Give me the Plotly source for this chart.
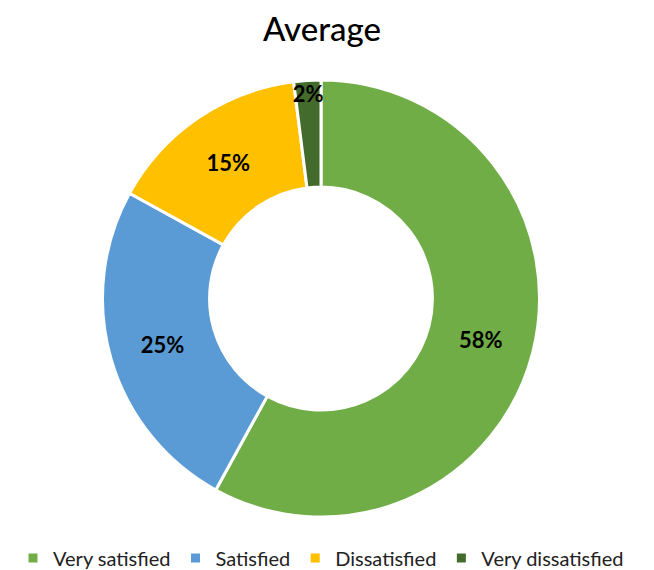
import plotly.graph_objects as go

categories = ["Very satisfied", "Satisfied", "Dissatisfied", "Very dissatisfied"]
values = [58, 25, 15, 2]
colors = ["#70AD47", "#5B9BD5", "#FFC000", "#436B2C"]

fig = go.Figure(go.Pie(
    labels=categories,
    values=values,
    hole=0.51,
    sort=False,
    direction="clockwise",
    rotation=0,
    marker=dict(colors=colors, line=dict(color="white", width=3)),
    texttemplate="%{percent:.0%}",
    textposition="inside",
    insidetextorientation="horizontal",
    textfont=dict(family="Lato", size=22, color="black", weight="bold"),
    domain=dict(x=[0, 1], y=[0, 1]),
))

fig.update_layout(
    width=654, height=570,
    margin=dict(l=0, r=28, t=72, b=56),
    paper_bgcolor="white",
    plot_bgcolor="white",
    title=dict(text="Average", x=0.48, xanchor="center", y=0.962, yanchor="middle",
               font=dict(family="Lato", size=33, color="black", weight=500)),
    uniformtext=dict(minsize=22, mode="show"),
    showlegend=True,
    legend=dict(orientation="h", x=0.5, xanchor="center", y=-0.094, yanchor="middle",
                font=dict(family="Lato", size=20, color="#222222"),
                itemwidth=30, traceorder="normal"),
)

fig.write_html("out.html")
